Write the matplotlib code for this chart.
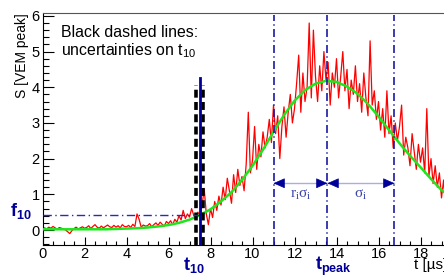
import numpy as np
import matplotlib
matplotlib.use('Agg')
import matplotlib.pyplot as plt
from matplotlib.ticker import MultipleLocator

plt.rcParams['font.family'] = ['Liberation Sans', 'DejaVu Sans']
plt.rcParams['mathtext.fontset'] = 'custom'
plt.rcParams['mathtext.rm'] = 'Liberation Serif'
plt.rcParams['mathtext.it'] = 'Liberation Serif:italic'
plt.rcParams['mathtext.bf'] = 'Liberation Sans:bold'
plt.rcParams['mathtext.sf'] = 'Liberation Sans'

# measured trace, 0.1 us bins starting at t = 0
bin_width = 0.1
trace = [
    0.04, 0.06, 0.03, 0.08, 0.05, 0.10, 0.06, 0.02, 0.07, 0.05,
    0.03, 0.00, -0.05, -0.10, -0.02, 0.04, 0.08, 0.03, 0.06, 0.09,
    0.05, 0.07, 0.12, 0.04, 0.10, 0.15, 0.08, 0.05, 0.11, 0.06,
    0.10, 0.14, 0.09, 0.07, 0.13, 0.08, 0.12, 0.06, 0.15, 0.10,
    0.09, 0.13, 0.07, 0.16, 0.10, 0.45, 0.30, 0.08, 0.14, 0.11,
    0.12, 0.18, 0.09, 0.15, 0.20, 0.13, 0.22, 0.16, 0.11, 0.24,
    0.18, 0.26, 0.15, 0.30, 0.22, 0.40, 0.28, 0.55, 0.32, 0.45,
    0.36, 0.60, 0.42, 0.30, 0.50, 0.38, 0.70, 1.15, 0.45, 0.15,
    0.60, 0.35, 0.80, 0.55, 0.95, 0.70, 1.20, 0.85, 1.45, 1.10,
    0.75, 1.55, 1.05, 1.70, 1.25, 1.50, 1.10, 1.85, 3.30, 1.60,
    1.95, 2.90, 1.70, 2.40, 2.05, 2.75, 2.30, 2.60, 3.10, 2.45,
    3.50, 2.70, 3.20, 2.00, 2.90, 3.45, 2.60, 3.30, 3.80, 3.00,
    3.40, 4.10, 4.90, 3.30, 4.40, 3.60, 4.00, 5.80, 3.70, 5.60,
    4.30, 3.60, 4.60, 3.90, 5.00, 4.20, 4.70, 3.50, 4.40, 4.00,
    4.80, 3.70, 4.30, 5.00, 3.90, 4.50, 3.40, 4.20, 3.80, 4.60,
    3.60, 4.10, 3.30, 4.40, 3.70, 3.20, 5.30, 3.50, 3.90, 3.10,
    3.60, 2.80, 3.40, 2.60, 3.90, 2.70, 3.20, 2.30, 3.00, 2.50,
    2.90, 3.50, 2.10, 2.60, 2.30, 1.80, 2.70, 2.20, 1.70, 2.40,
    1.90, 2.30, 1.60, 3.40, 1.50, 2.00, 1.30, 1.80, 1.20, 1.60,
    0.90, 1.40, 0.60, 1.10, 0.80,
]

# fitted shape
fit_t = [0, 0.5, 1, 1.5, 2, 2.5, 3, 3.5, 4, 4.5, 5, 5.5, 6, 6.5, 7, 7.5,
         8, 8.5, 9, 9.5, 10, 10.5, 11, 11.5, 12, 12.5, 13, 13.5, 14, 14.5,
         15, 15.5, 16, 16.5, 17, 17.5, 18, 18.5, 19, 19.5]
fit_s = [0.02, 0.02, 0.02, 0.02, 0.02, 0.02, 0.02, 0.03, 0.04, 0.05,
         0.07, 0.10, 0.14, 0.20, 0.29, 0.42, 0.58, 0.80, 1.06, 1.40,
         1.80, 2.25, 2.75, 3.22, 3.62, 3.92, 4.10, 4.18, 4.15, 4.02,
         3.82, 3.53, 3.18, 2.80, 2.43, 2.08, 1.76, 1.43, 1.12, 0.88]

t10 = 7.48
t10_err = [7.32, 7.65]
f10 = 0.41
t_peak = 13.57
t_left = 11.0
t_right = 16.76
arrow_y = 1.31

dark = '#000099'
light = '#a9aee0'

fig = plt.figure(figsize=(4.44, 2.78), dpi=100)
ax = fig.add_axes([42.5 / 444, 33 / 278, 19.5 * 21 / 444, 232 / 278])
ax.set_xlim(0, 19.5)
ax.set_ylim(-0.42, 6.08)

t_bins = np.arange(len(trace)) * bin_width
ax.plot(t_bins, trace, color='#ff0000', lw=0.9, zorder=2)
ax.plot(fit_t, fit_s, color='#1ee61e', lw=1.8, zorder=3)

# t10 and its uncertainties
for xe in t10_err:
    ax.plot([xe, xe], [-0.42, 4.06], color='black', lw=2.6,
            ls=(0, (2.2, 1.2)), zorder=4)
ax.plot([t10, t10], [-0.42, 4.27], color=dark, lw=2.0, zorder=5)
ax.plot([0, t10], [f10, f10], color='#2a2ab5', lw=1.0,
        ls=(0, (6, 2.5, 1, 2.5)), zorder=4)

# peak and width markers
for xv in [t_left, t_peak, t_right]:
    ax.plot([xv, xv], [-0.42, 6.02], color='#1a1aa5', lw=1.2,
            ls=(0, (4.8, 2, 0.8, 2)), zorder=4)

ax.plot([t_left, t_right], [arrow_y, arrow_y], color=light, lw=1.0, zorder=4)
head = dict(arrowstyle='-|>,head_length=0.72,head_width=0.32', color=dark,
            lw=0.5, shrinkA=0, shrinkB=0, mutation_scale=10)
for tip, side in [(t_left, 1), (t_peak, -1), (t_peak, 1), (t_right, -1)]:
    ax.annotate('', xy=(tip, arrow_y), xytext=(tip + side * 0.47, arrow_y),
                arrowprops=head, zorder=6)

ax.text((t_left + t_peak) / 2, 0.98, r'$\mathrm{r_i\sigma_i}$', color='#3a44aa',
        fontsize=11, ha='center', va='center')
ax.text((t_peak + t_right) / 2, 0.98, r'$\mathrm{\sigma_i}$', color='#3a44aa',
        fontsize=11, ha='center', va='center')

ax.text(0.86, 5.41, 'Black dashed lines:', fontsize=11.4, va='baseline')
ax.text(0.86, 4.90, r'uncertainties on t$_{\mathsf{10}}$', fontsize=11.4, va='baseline')

ax.text(-1.55, 0.39, r'$\mathbf{f_{10}}$', color=dark, fontsize=13,
        va='baseline', clip_on=False)
ax.text(6.7, -1.13, r'$\mathbf{t_{10}}$', color=dark, fontsize=13,
        va='baseline', clip_on=False)
ax.text(12.98, -1.13, r'$\mathbf{t_{peak}}$', color=dark, fontsize=13,
        va='baseline', clip_on=False)
ax.text(17.67, -1.10, 't [µs]', fontsize=11, va='baseline', clip_on=False)

ax.set_ylabel('S [VEM peak]', fontsize=10, loc='top', labelpad=2)

ax.xaxis.set_major_locator(MultipleLocator(2))
ax.xaxis.set_minor_locator(MultipleLocator(0.5))
ax.yaxis.set_major_locator(MultipleLocator(1))
ax.yaxis.set_minor_locator(MultipleLocator(0.2))
ax.tick_params(axis='x', which='major', direction='in', length=6, width=0.8,
               labelsize=10.5, pad=1.5, top=False)
ax.tick_params(axis='x', which='minor', direction='in', length=3, width=0.8, top=False)
ax.tick_params(axis='y', which='major', direction='in', length=8, width=0.8,
               labelsize=10.5, pad=2, right=False)
ax.tick_params(axis='y', which='minor', direction='in', length=4, width=0.8, right=False)
ax.spines['right'].set_visible(False)
ax.spines['top'].set_color('#555555')
for s in ['left', 'bottom', 'top']:
    ax.spines[s].set_linewidth(0.8)

fig.savefig('out.png', dpi=100)
